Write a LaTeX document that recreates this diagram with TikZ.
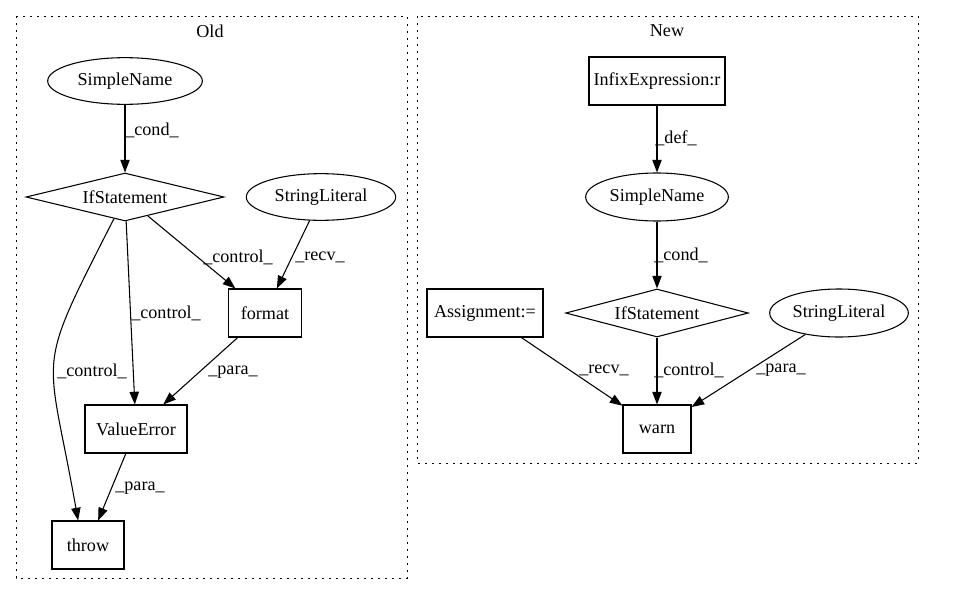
\documentclass[tikz,border=0pt]{standalone}
\usepackage{fontspec}
\setmainfont{Liberation Serif}
\usetikzlibrary{shapes.geometric,arrows.meta}
\begin{document}
\begin{tikzpicture}[x=0.75pt,y=0.75pt,
  every node/.style={font=\fontsize{13.6}{16}\selectfont},
  box/.style={draw,rectangle,line width=0.8pt,inner sep=0pt,minimum height=36pt},
  ell/.style={draw,ellipse,line width=0.8pt,inner sep=0pt,minimum height=35pt},
  dia/.style={draw,diamond,shape aspect=4,line width=0.8pt,inner sep=0pt,minimum height=36pt},
  lbl/.style={inner sep=0pt},
  edge/.style={-{Triangle[length=9.5pt,width=7pt]},line width=0.8pt},
  clus/.style={line width=0.75pt,dash pattern=on 1.5pt off 3.75pt}
]
\path[use as bounding box] (0,0) rectangle (973,-596);
% clusters
\draw[clus] (16,-16) rectangle (407,-578);
\draw[clus] (417,-16) rectangle (918,-463);
\node (oldt) at (210,-31) {Old};
\node (newt) at (667,-31) {New};
% Old nodes
\node[ell,minimum width=116pt] (osn) at (125,-81) {SimpleName};
\node[dia,minimum width=148.5pt] (oif) at (125,-197) {IfStatement};
\node[ell,minimum width=112pt] (osl) at (321,-197) {StringLiteral};
\node[box,minimum width=55pt] (fmt) at (265,-313) {format};
\node[box,minimum width=76.5pt] (ve) at (136,-429) {ValueError};
\node[box,minimum width=54pt] (thr) at (88,-545) {throw};
% New nodes
\node[box,minimum width=102pt] (inf) at (657,-81) {InfixExpression:r};
\node[ell,minimum width=107pt,minimum height=36pt] (nsn) at (657,-197) {SimpleName};
\node[dia,minimum width=137pt] (nif) at (657,-313) {IfStatement};
\node[box,minimum width=87pt] (asg) at (485,-313) {Assignment:=};
\node[ell,minimum width=104pt,minimum height=36pt] (nsl) at (839,-313) {StringLiteral};
\node[box,minimum width=51pt] (warn) at (657,-429) {warn};
% Old edges
\draw[edge] (osn) -- (oif);
\draw[edge] (oif) -- (fmt);
\draw[edge] (osl) -- (fmt);
\draw[edge] (oif) -- (ve);
\draw[edge] (oif.243) to[out=243,in=100,looseness=1.5] (thr.112);
\draw[edge] (fmt) -- (ve);
\draw[edge] (ve) -- (thr);
% New edges
\draw[edge] (inf) -- (nsn);
\draw[edge] (nsn) -- (nif);
\draw[edge] (asg) -- (warn);
\draw[edge] (nif) -- (warn);
\draw[edge] (nsl) -- (warn);
% labels
\node[lbl] (l1) at (152,-130) {\_cond\_};
\node[lbl] (l2) at (238,-257) {\_control\_};
\node[lbl] (l3) at (320,-257) {\_recv\_};
\node[lbl] (l4) at (166,-313) {\_control\_};
\node[lbl] (l5) at (92,-371) {\_control\_};
\node[lbl] (l6) at (233,-372) {\_para\_};
\node[lbl] (l7) at (140,-488) {\_para\_};
\node[lbl] (l8) at (676,-138) {\_def\_};
\node[lbl] (l9) at (681,-255) {\_cond\_};
\node[lbl] (l10) at (604,-370) {\_recv\_};
\node[lbl] (l11) at (689,-370) {\_control\_};
\node[lbl] (l12) at (781,-370) {\_para\_};
\end{tikzpicture}
\end{document}
